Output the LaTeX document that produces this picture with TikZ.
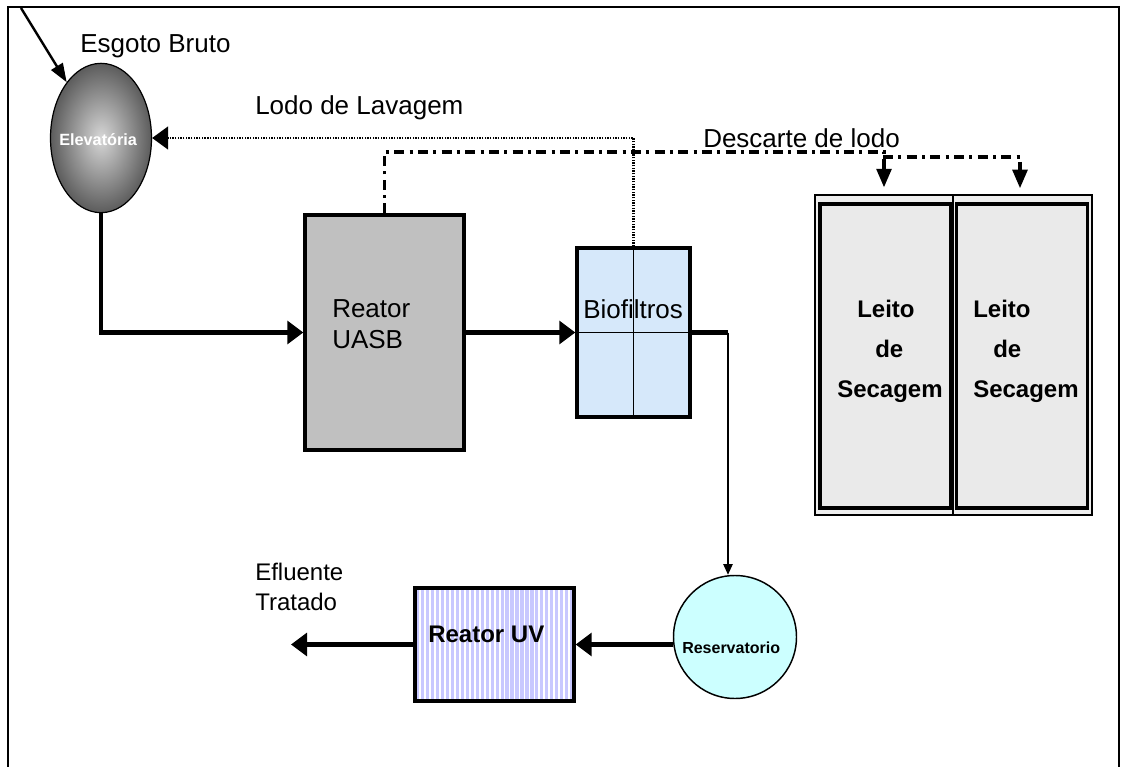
\documentclass[tikz,border=0pt]{standalone}
\usepackage{fontspec}
\setmainfont{Liberation Sans}
\usetikzlibrary{arrows.meta,shapes.geometric,calc}
\definecolor{uasbgray}{RGB}{192,192,192}
\definecolor{biofill}{RGB}{214,232,250}
\definecolor{leitofill}{RGB}{234,234,234}
\definecolor{leitoedge}{RGB}{238,238,238}
\definecolor{resfill}{RGB}{204,255,255}
\definecolor{uvlav}{RGB}{200,200,255}
\definecolor{elevin}{RGB}{215,215,215}
\definecolor{elevout}{RGB}{92,92,92}

\begin{document}
\begin{tikzpicture}[x=0.75pt,y=-0.75pt,
  lbl/.style={anchor=base west, inner sep=0pt, font=\fontsize{19.5}{23.4}\selectfont},
  lblsm/.style={anchor=base west, inner sep=0pt, font=\fontsize{18}{22.5}\selectfont},
  blbl/.style={anchor=base west, inner sep=0pt, font=\bfseries\fontsize{18}{21}\selectfont},
  slbl/.style={anchor=base west, inner sep=0pt, font=\bfseries\fontsize{12}{14}\selectfont},
  box/.style={draw, line width=2.5pt, inner sep=0pt},
  flow/.style={line width=3.4pt, -{Triangle[length=12pt,width=17pt]}},
  thinflow/.style={line width=1.1pt, -{Triangle[length=8pt,width=7pt]}},
  sludge/.style={line width=2.8pt, dash pattern=on 7.5pt off 4pt on 2.25pt off 4pt,
                 -{Triangle[length=14pt,width=11pt]}},
  wash/.style={line width=1.8pt, dash pattern=on 1pt off 1pt,
               -{Triangle[length=12pt,width=17pt]}},
]
\useasboundingbox (0,0) rectangle (1122,767);

% frame
\draw[line width=1.3pt] (8,767) -- (8,7) -- (1119,7) -- (1119,767);

% pumping station
\node[ellipse, draw, line width=0.9pt, inner sep=0pt,
      minimum width=75.75pt, minimum height=112pt,
      inner color=elevin, outer color=elevout] (elev) at (101,138) {};
\node[slbl, text=white, font=\bfseries\fontsize{12.2}{14}\selectfont] (elevtxt) at (59,146) {Elevatória};
\node[lbl] (esgtxt) at (80,53) {Esgoto Bruto};
\coordinate (esgin) at (21,8);

% UASB reactor
\node[box, fill=uasbgray, minimum width=119.25pt, minimum height=176.25pt] (uasb) at (384.5,332.5) {};
\node[lbl, align=left, anchor=west] (uasbtxt) at (332,324) {Reator\\UASB};

% biofilters
\node[box, fill=biofill, minimum width=84.75pt, minimum height=126.75pt,
      path picture={\draw[line width=0.8pt]
        (path picture bounding box.north) -- (path picture bounding box.south)
        (path picture bounding box.west) -- (path picture bounding box.east);}]
      (bio) at (633.5,332.5) {};
\node[lbl] (biotxt) at (583,318) {Biofiltros};

% drying beds
\node[draw, line width=1.3pt, fill=leitoedge, minimum width=103.5pt, minimum height=240pt, inner sep=0pt] (leitoA) at (884,355) {};
\node[draw, line width=1.3pt, fill=leitoedge, minimum width=104.25pt, minimum height=240pt, inner sep=0pt] (leitoB) at (1022.5,355) {};
\node[draw, line width=2.4pt, fill=leitofill, minimum width=98.25pt, minimum height=228pt, inner sep=0pt] (leitoAin) at (885.5,356) {};
\node[draw, line width=2.4pt, fill=leitofill, minimum width=98.25pt, minimum height=228pt, inner sep=0pt] (leitoBin) at (1022,356) {};
\node[blbl] (la1) at (857,317) {Leito};
\node[blbl] (la2) at (875,357) {de};
\node[blbl] (la3) at (837,397) {Secagem};
\node[blbl] (lb1) at (973,317) {Leito};
\node[blbl] (lb2) at (993,357) {de};
\node[blbl] (lb3) at (973,397) {Secagem};

% reservoir
\node[circle, draw, line width=1.1pt, fill=resfill, minimum size=92.25pt, inner sep=0pt] (res) at (735,637) {};
\node[slbl] (restxt) at (682,653) {Reservatorio};

% UV reactor
\node[box, fill=white, minimum width=119.25pt, minimum height=84.75pt,
      path picture={\foreach \k in {0,...,31}{
        \fill[uvlav] ($(path picture bounding box.north west)+(\k*3.725pt+0.8pt,0pt)$)
          rectangle ++(2.4pt,-84.75pt);}}]
      (uv) at (494.5,644.5) {};
\node[blbl] (uvtxt) at (428,642) {Reator UV};

% treated effluent
\node[lblsm, align=left, anchor=west] (efltxt) at (255,587) {Efluente\\Tratado};
\coordinate (eflout) at (291,644.5);

% labels of the return lines
\node[lbl] (lavtxt) at (255,115) {Lodo de Lavagem};
\node[lbl] (desctxt) at (703,147) {Descarte de lodo};

% main flow
\draw[line width=1.8pt, -{Triangle[length=14pt,width=10pt]}] (esgin) -- (elev);
\draw[flow] (elev.south) |- (uasb.west);
\draw[flow] (uasb.east) -- (bio.west);
\coordinate (bend) at (728,332.5);
\draw[line width=3.2pt] (bio.east) -- (bend);
\draw[thinflow] (bend) -- (res.north -| bend);
\draw[flow] (res.west |- uv.east) -- (uv.east);
\draw[flow] (uv.west) -- (uv.west -| eflout);

% backwash sludge back to the pumping station
\draw[wash] (bio.north) |- (elev.east);

% excess sludge to the drying beds
\coordinate (split) at (883,157);
\draw[sludge, shorten >=5pt] (uasb.north) |- (leitoA.north |- 0,152) -- (leitoA.north);
\draw[sludge, shorten >=5pt] (split) -| (1020,195);
\end{tikzpicture}
\end{document}
